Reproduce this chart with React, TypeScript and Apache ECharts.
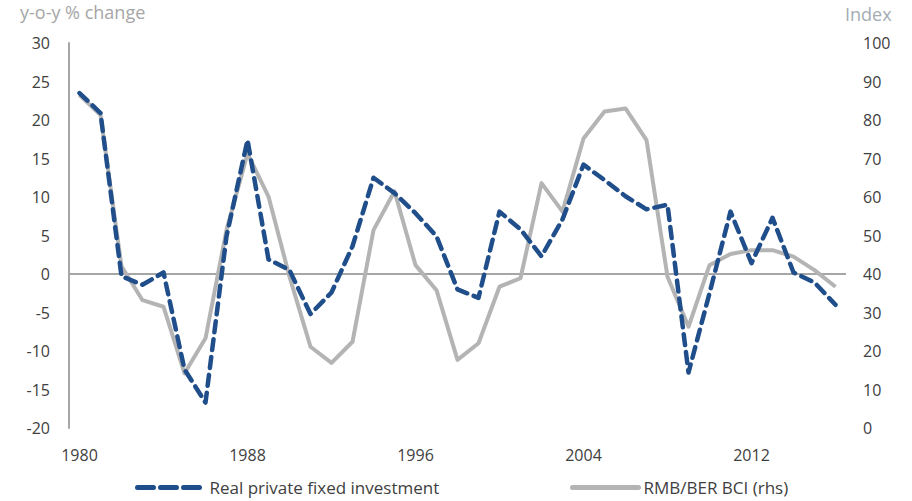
import React, { useEffect, useRef } from "react";
import * as echarts from "echarts";

// Annual observations, 1980–2016
const years: string[] = [
  "1980", "1981", "1982", "1983", "1984", "1985", "1986", "1987", "1988", "1989",
  "1990", "1991", "1992", "1993", "1994", "1995", "1996", "1997", "1998", "1999",
  "2000", "2001", "2002", "2003", "2004", "2005", "2006", "2007", "2008", "2009",
  "2010", "2011", "2012", "2013", "2014", "2015", "2016",
];

// Real private fixed investment, y-o-y % change (left axis)
const realPrivateFixedInvestment: number[] = [
  23.5, 20.9, -0.3, -1.4, 0.2, -12.4, -16.7, 4.9, 17.4, 1.9,
  0.5, -5.2, -2.4, 3.6, 12.5, 10.5, 7.9, 4.9, -2.0, -3.1,
  8.1, 5.8, 2.3, 7.1, 14.2, 12.2, 10.1, 8.4, 9.0, -12.8,
  -2.5, 8.1, 1.4, 7.3, 0.2, -1.1, -4.0,
];

// RMB/BER business confidence index (right axis)
const rmbBerBci: number[] = [
  86.5, 81.3, 42.0, 33.2, 31.5, 14.2, 23.3, 51.4, 71.3, 60.1,
  39.3, 21.1, 16.9, 22.4, 51.4, 61.5, 42.3, 35.8, 17.7, 22.0,
  36.7, 38.9, 63.6, 56.2, 75.2, 82.2, 83.0, 74.8, 39.3, 26.3,
  42.3, 45.2, 46.2, 46.2, 44.5, 41.0, 36.7,
];

const seriesNames = ["Real private fixed investment", "RMB/BER BCI (rhs)"];

const FONT = "'Open Sans', 'Noto Sans', sans-serif";
const FS = 16;
const TEXT = "#404040";
const AXIS_GREY = "#a6a6a6";
const BLUE = "#1f4e8a";
const LINE_GREY = "#b4b4b4";

export default function App() {
  const ref = useRef<HTMLDivElement>(null);

  useEffect(() => {
    if (!ref.current) return;
    const chart = echarts.init(ref.current, undefined, { renderer: "svg" });
    const legendText = { color: TEXT, fontSize: 17, fontFamily: FONT };
    chart.setOption({
      animation: false,
      backgroundColor: "#ffffff",
      textStyle: { fontFamily: FONT },
      grid: { left: 69, right: 66, top: 43, bottom: 73, containLabel: false },
      graphic: [
        {
          type: "text",
          left: 20,
          top: 3,
          style: { text: "y-o-y % change", fill: AXIS_GREY, font: `18px ${FONT}` },
        },
        {
          type: "text",
          left: 845,
          top: 5,
          style: { text: "Index", fill: "#a3adb3", font: `18px ${FONT}` },
        },
      ],
      legend: [
        {
          data: [seriesNames[0]],
          left: 135,
          top: 479,
          padding: 0,
          itemWidth: 63,
          itemHeight: 10,
          textStyle: { ...legendText, padding: [0, 0, 0, 4] },
          itemStyle: { opacity: 0 },
          lineStyle: { type: [16, 7], width: 5, cap: "round" },
        },
        {
          data: [seriesNames[1]],
          left: 570,
          top: 479,
          padding: 0,
          itemWidth: 66,
          itemHeight: 10,
          textStyle: legendText,
          itemStyle: { opacity: 0 },
          lineStyle: { width: 5, cap: "round" },
        },
      ],
      xAxis: {
        type: "category",
        data: years,
        boundaryGap: true,
        axisLine: { show: false },
        axisTick: { show: false },
        axisLabel: {
          interval: 7,
          color: TEXT,
          fontSize: FS,
          fontFamily: FONT,
          margin: 19,
        },
        splitLine: { show: false },
      },
      yAxis: [
        {
          type: "value",
          min: -20,
          max: 30,
          interval: 5,
          axisLine: { show: true, onZero: false, lineStyle: { color: AXIS_GREY, width: 2 } },
          axisTick: { show: false },
          splitLine: { show: false },
          axisLabel: { color: TEXT, fontSize: FS, fontFamily: FONT, margin: 19 },
        },
        {
          type: "value",
          min: 0,
          max: 100,
          interval: 10,
          position: "right",
          axisLine: { show: false },
          axisTick: { show: false },
          splitLine: { show: false },
          axisLabel: { color: TEXT, fontSize: FS, fontFamily: FONT, margin: 17 },
        },
      ],
      series: [
        {
          name: seriesNames[1],
          type: "line",
          yAxisIndex: 1,
          data: rmbBerBci,
          symbol: "none",
          lineStyle: { color: LINE_GREY, width: 4, join: "round" },
          itemStyle: { color: LINE_GREY },
          z: 2,
        },
        {
          name: seriesNames[0],
          type: "line",
          yAxisIndex: 0,
          data: realPrivateFixedInvestment,
          symbol: "none",
          lineStyle: { color: BLUE, width: 4.5, type: [11, 7], cap: "round", join: "round" },
          itemStyle: { color: BLUE },
          z: 3,
          markLine: {
            silent: true,
            symbol: "none",
            label: { show: false },
            lineStyle: { color: AXIS_GREY, width: 2, type: "solid" },
            data: [{ yAxis: 0 }],
            z: 1,
          },
        },
      ],
    });
    return () => chart.dispose();
  }, []);

  return (
    <div
      ref={ref}
      style={{ position: "fixed", left: 0, top: 0, width: 912, height: 501 }}
    />
  );
}
